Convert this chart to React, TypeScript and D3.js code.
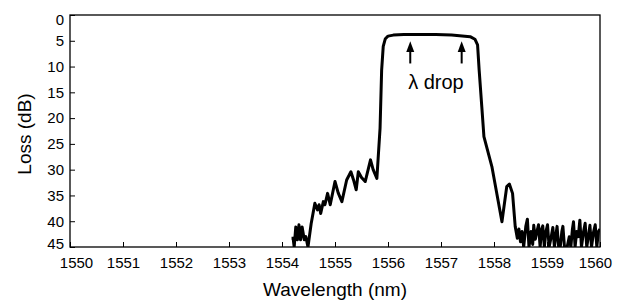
import React, { useEffect, useRef } from 'react';
import * as d3 from 'd3';

// wavelength (nm) and loss (dB)
const wavelength = [
  1554.18, 1554.21, 1554.23, 1554.26, 1554.29, 1554.32, 1554.35, 1554.38, 1554.42, 1554.45, 1554.49,
  1554.55, 1554.62, 1554.67, 1554.70, 1554.73, 1554.78, 1554.81, 1554.86, 1554.91, 1555.0, 1555.06,
  1555.13, 1555.22, 1555.30, 1555.35, 1555.40, 1555.44, 1555.50, 1555.57, 1555.67, 1555.72, 1555.79,
  1555.85, 1555.88, 1555.91, 1555.95, 1556.0, 1556.1, 1556.3, 1556.6, 1556.9, 1557.2, 1557.45,
  1557.55, 1557.64, 1557.69, 1557.72, 1557.77, 1557.81, 1557.96, 1558.15, 1558.24, 1558.29, 1558.35,
  1558.40, 1558.44, 1558.47, 1558.50, 1558.53, 1558.56, 1558.60, 1558.63, 1558.66, 1558.70, 1558.73,
  1558.75, 1558.78, 1558.81, 1558.84, 1558.87, 1558.90, 1558.92, 1558.95, 1558.98, 1559.01, 1559.04,
  1559.08, 1559.11, 1559.14, 1559.17, 1559.19, 1559.22, 1559.25, 1559.28, 1559.30, 1559.33, 1559.38,
  1559.42, 1559.45, 1559.48, 1559.50, 1559.53, 1559.56, 1559.59, 1559.62, 1559.65, 1559.69, 1559.72,
  1559.75, 1559.78, 1559.81, 1559.84, 1559.88, 1559.91, 1559.94, 1559.97, 1560.0,
];
const loss = [
  43.3, 43.3, 45.0, 41.1, 43.6, 40.7, 43.6, 41.1, 43.6, 43.0, 45.0,
  40.5, 36.5, 37.8, 36.8, 38.5, 36.2, 36.8, 34.6, 36.8, 32.3, 34.5,
  36.2, 32.0, 30.4, 32.0, 33.9, 30.4, 31.5, 32.3, 28.1, 30.0, 31.7,
  22.0, 10.7, 6.1, 4.6, 4.1, 3.9, 3.8, 3.8, 3.8, 3.9, 4.1,
  4.2, 4.7, 5.8, 10.7, 17.8, 23.6, 29.4, 40.1, 33.3, 32.8, 34.6,
  41.0, 43.3, 41.5, 44.0, 42.0, 45.0, 41.0, 39.6, 45.0, 42.0, 44.5,
  40.8, 43.5, 42.0, 40.7, 45.0, 41.5, 40.9, 45.0, 42.0, 40.7, 45.0,
  43.0, 41.2, 45.0, 42.5, 41.0, 45.0, 45.0, 42.0, 41.0, 45.0, 45.0,
  43.0, 45.0, 41.5, 40.1, 45.0, 42.0, 43.0, 39.8, 45.0, 42.0, 40.4,
  45.0, 43.0, 40.8, 45.0, 42.0, 40.7, 45.0, 42.0, 41.5,
];
const xTicks = [1550, 1551, 1552, 1553, 1554, 1555, 1556, 1557, 1558, 1559, 1560];
const yTicks = [0, 5, 10, 15, 20, 25, 30, 35, 40, 45];
// arrows marking the drop band
const arrowAt = [1556.42, 1557.39];

export default function App() {
  const svgRef = useRef<SVGSVGElement>(null);

  useEffect(() => {
    const width = 626;
    const height = 301;
    const m = { left: 70, right: 26, top: 15, bottom: 54 };
    const font = '"Liberation Sans", Arial, Helvetica, sans-serif';

    const svg = d3.select(svgRef.current)
      .attr('width', width)
      .attr('height', height)
      .style('font-family', font);
    svg.selectAll('*').remove();

    const x = d3.scaleLinear().domain([1550, 1560]).range([m.left, width - m.right]);
    const y = d3.scaleLinear().domain([0, 45]).range([m.top, height - m.bottom]);

    svg.append('clipPath').attr('id', 'plot')
      .append('rect')
      .attr('x', m.left).attr('y', m.top)
      .attr('width', x(1560) - x(1550)).attr('height', y(45) - y(0));

    // axes, ticks pointing inward
    const xAxis = svg.append('g')
      .attr('transform', `translate(0, ${y(45)})`)
      .call(d3.axisBottom(x).tickValues(xTicks).tickSizeInner(-5).tickSizeOuter(0).tickPadding(10).tickFormat(d3.format('d')));
    const yAxis = svg.append('g')
      .attr('transform', `translate(${m.left}, 0)`)
      .call(d3.axisLeft(y).tickValues(yTicks).tickSizeInner(-5).tickSizeOuter(0).tickPadding(6));
    [xAxis, yAxis].forEach(g => {
      g.select('.domain').remove();
      g.selectAll('line').attr('stroke', '#000').attr('stroke-width', 1);
      g.selectAll('text').attr('fill', '#000').style('font-size', '15px').style('font-family', font);
    });
    // end labels nudged inward so they don't collide at the corners
    yAxis.selectAll('text').attr('dy', (d: any) => (d === 0 ? '0.62em' : d === 45 ? '0.12em' : '0.32em'));
    xAxis.selectAll('text').attr('dx', (d: any) => (d === 1550 ? 6 : d === 1560 ? -5 : 0));

    // frame
    svg.append('rect')
      .attr('x', m.left).attr('y', m.top)
      .attr('width', x(1560) - x(1550)).attr('height', y(45) - y(0))
      .attr('fill', 'none').attr('stroke', '#000').attr('stroke-width', 1.3);

    // trace
    const line = d3.line<number>()
      .x((d, i) => x(wavelength[i]))
      .y(d => y(d))
      .curve(d3.curveLinear);
    svg.append('path')
      .datum(loss)
      .attr('clip-path', 'url(#plot)')
      .attr('d', line)
      .attr('fill', 'none')
      .attr('stroke', '#000')
      .attr('stroke-width', 3)
      .attr('stroke-linejoin', 'round');

    // arrows and label
    arrowAt.forEach(w => {
      svg.append('line')
        .attr('x1', x(w)).attr('x2', x(w))
        .attr('y1', y(9.4)).attr('y2', y(6.5))
        .attr('stroke', '#000').attr('stroke-width', 2);
      svg.append('path')
        .attr('d', `M${x(w)},${y(5.1)} L${x(w) - 4},${y(7.2)} L${x(w) + 4},${y(7.2)} Z`)
        .attr('fill', '#000');
    });
    svg.append('text')
      .attr('x', x(d3.mean(arrowAt)!)).attr('y', 89)
      .attr('text-anchor', 'middle')
      .style('font-size', '20px')
      .text('λ drop');

    // titles
    svg.append('text')
      .attr('x', (x(1550) + x(1560)) / 2).attr('y', 296)
      .attr('text-anchor', 'middle')
      .style('font-size', '19px')
      .text('Wavelength (nm)');
    svg.append('text')
      .attr('transform', `translate(31, ${(y(0) + y(45)) / 2 + 3}) rotate(-90)`)
      .attr('text-anchor', 'middle')
      .style('font-size', '19px')
      .text('Loss (dB)');
  }, []);

  return (
    <div style={{ position: 'absolute', left: 0, top: 0 }}>
      <svg ref={svgRef} style={{ display: 'block', background: '#fff' }}></svg>
    </div>
  );
}
